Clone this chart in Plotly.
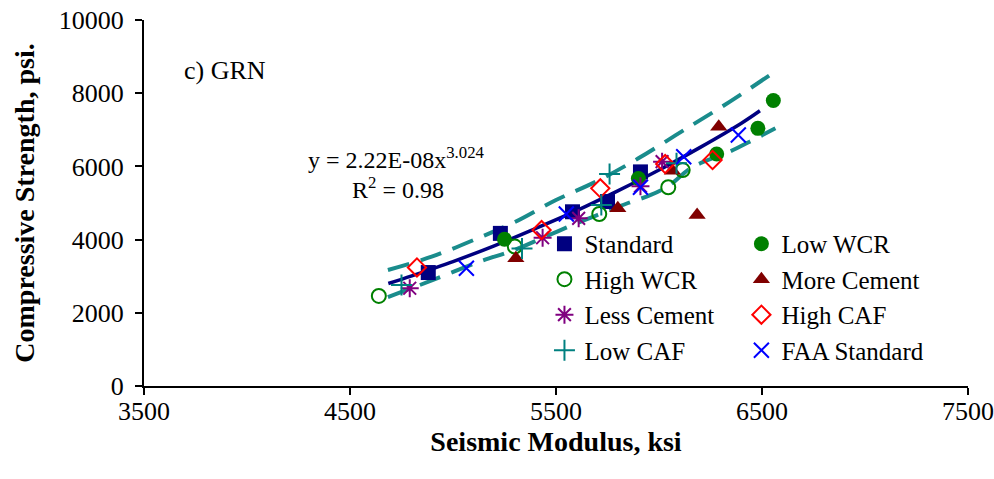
import plotly.graph_objects as go

# ---- data ----
std_x = [4880, 5230, 5580, 5750, 5910]
std_y = [3100, 4170, 4760, 5040, 5850]
lowwcr_x = [5250, 5900, 6280, 6480, 6555]
lowwcr_y = [4010, 5670, 6340, 7040, 7800]
highwcr_x = [4640, 5300, 5710, 6045, 6115]
highwcr_y = [2460, 3810, 4700, 5430, 5900]
morecem_x = [5305, 5800, 6065, 6185, 6290]
morecem_y = [3490, 4855, 5880, 4670, 7085]
lesscem_x = [4790, 5435, 5610, 5910, 6015]
lesscem_y = [2670, 4050, 4580, 5460, 6130]
highcaf_x = [4825, 5430, 5715, 6030, 6260]
highcaf_y = [3240, 4260, 5400, 6065, 6175]
lowcaf_x = [4750, 5335, 5720, 5760, 6085]
lowcaf_y = [2760, 3760, 4945, 5790, 6085]
faa_x = [5065, 5550, 5910, 6120, 6385]
faa_y = [3215, 4700, 5430, 6265, 6860]

fit_x = [4686, 4800, 5000, 5200, 5400, 5600, 5800, 6000, 6200, 6400, 6490]
fit_y = [2800, 3010, 3400, 3830, 4300, 4790, 5330, 5900, 6520, 7180, 7520]
upper_x = [4684, 4900, 5130, 5300, 5500, 5700, 5900, 6120, 6350, 6573]
upper_y = [3170, 3540, 4060, 4480, 5080, 5600, 6220, 6990, 7790, 8630]
lower_x = [4684, 4900, 5130, 5300, 5440, 5600, 5700, 5850, 5960, 6050, 6140, 6200, 6345, 6440, 6565]
lower_y = [2430, 2890, 3400, 3720, 4060, 4445, 4670, 5000, 5220, 5480, 5900, 6085, 6410, 6675, 7040]

x_ticks = [3500, 4500, 5500, 6500, 7500]
y_ticks = [0, 2000, 4000, 6000, 8000, 10000]

FONT = "Liberation Serif"
fig = go.Figure()

teal = "#1a8c8c"
fig.add_trace(go.Scatter(x=upper_x, y=upper_y, mode="lines", line=dict(color=teal, width=4, dash="22px,12px", shape="spline"),
                         showlegend=False, hoverinfo="skip"))
fig.add_trace(go.Scatter(x=lower_x, y=lower_y, mode="lines", line=dict(color=teal, width=4, dash="22px,12px", shape="spline"),
                         showlegend=False, hoverinfo="skip"))
fig.add_trace(go.Scatter(x=fit_x, y=fit_y, mode="lines", line=dict(color="#000080", width=3.5, shape="spline"),
                         showlegend=False, hoverinfo="skip"))

series = [
    ("Standard", std_x, std_y, dict(symbol="square", color="#000080", size=15), "legend"),
    ("Low WCR", lowwcr_x, lowwcr_y, dict(symbol="circle", color="#008000", size=15), "legend2"),
    ("High WCR", highwcr_x, highwcr_y, dict(symbol="circle-open", color="#008000", size=14, line=dict(width=2, color="#008000")), "legend"),
    ("More Cement", morecem_x, morecem_y, dict(symbol="triangle-up", color="#800000", size=15), "legend2"),
    ("Less Cement", lesscem_x, lesscem_y, dict(symbol="asterisk-open", color="#800080", size=15, line=dict(width=2, color="#800080")), "legend"),
    ("High CAF", highcaf_x, highcaf_y, dict(symbol="diamond-open", color="#FF0000", size=14, line=dict(width=2, color="#FF0000")), "legend2"),
    ("Low CAF", lowcaf_x, lowcaf_y, dict(symbol="cross-thin-open", color="#008080", size=15, line=dict(width=2, color="#008080")), "legend"),
    ("FAA Standard", faa_x, faa_y, dict(symbol="x-thin-open", color="#0000FF", size=15, line=dict(width=2, color="#0000FF")), "legend2"),
]
for name, xs, ys, mk, lg in series:
    fig.add_trace(go.Scatter(x=xs, y=ys, mode="markers", name=name, marker=mk, legend=lg))

axis_common = dict(showline=True, linecolor="black", linewidth=2, ticks="outside", ticklen=7, tickwidth=2,
                   tickcolor="black", showgrid=False, zeroline=False, tickformat="d", automargin=False,
                   tickfont=dict(family=FONT, size=26, color="black"))

fig.update_layout(
    width=994, height=479,
    margin=dict(l=144, r=26, t=20, b=93),
    plot_bgcolor="white", paper_bgcolor="white",
    xaxis=dict(range=[3500, 7500], tickvals=x_ticks, **axis_common, ticklabelstandoff=-6,
               title=dict(text="<b>Seismic Modulus, ksi</b>", font=dict(family=FONT, size=28, color="black"), standoff=2)),
    yaxis=dict(range=[0, 10000], tickvals=y_ticks, **axis_common, ticklabelstandoff=6,
               title=dict(text="<b>Compressive Strength, psi.</b>", font=dict(family=FONT, size=28, color="black"), standoff=16)),
    legend=dict(x=0.486, y=0.451, xanchor="left", yanchor="top", bgcolor="rgba(0,0,0,0)",
                font=dict(family=FONT, size=25, color="black"), itemwidth=30, tracegroupgap=0),
    legend2=dict(x=0.725, y=0.451, xanchor="left", yanchor="top", bgcolor="rgba(0,0,0,0)",
                 font=dict(family=FONT, size=25, color="black"), itemwidth=30, tracegroupgap=0),
    annotations=[
        dict(text="c) GRN", xref="paper", yref="paper", x=0.046, y=0.862, xanchor="left", yanchor="middle",
             showarrow=False, font=dict(family=FONT, size=26, color="black")),
        dict(text="y = 2.22E-08x<sup>3.024</sup>", xref="paper", yref="paper", x=0.306, y=0.622,
             xanchor="center", yanchor="middle", showarrow=False, font=dict(family=FONT, size=24, color="black")),
        dict(text="R<sup>2</sup> = 0.98", xref="paper", yref="paper", x=0.308, y=0.54,
             xanchor="center", yanchor="middle", showarrow=False, font=dict(family=FONT, size=24, color="black")),
    ],
)

fig.write_html("out.html")
